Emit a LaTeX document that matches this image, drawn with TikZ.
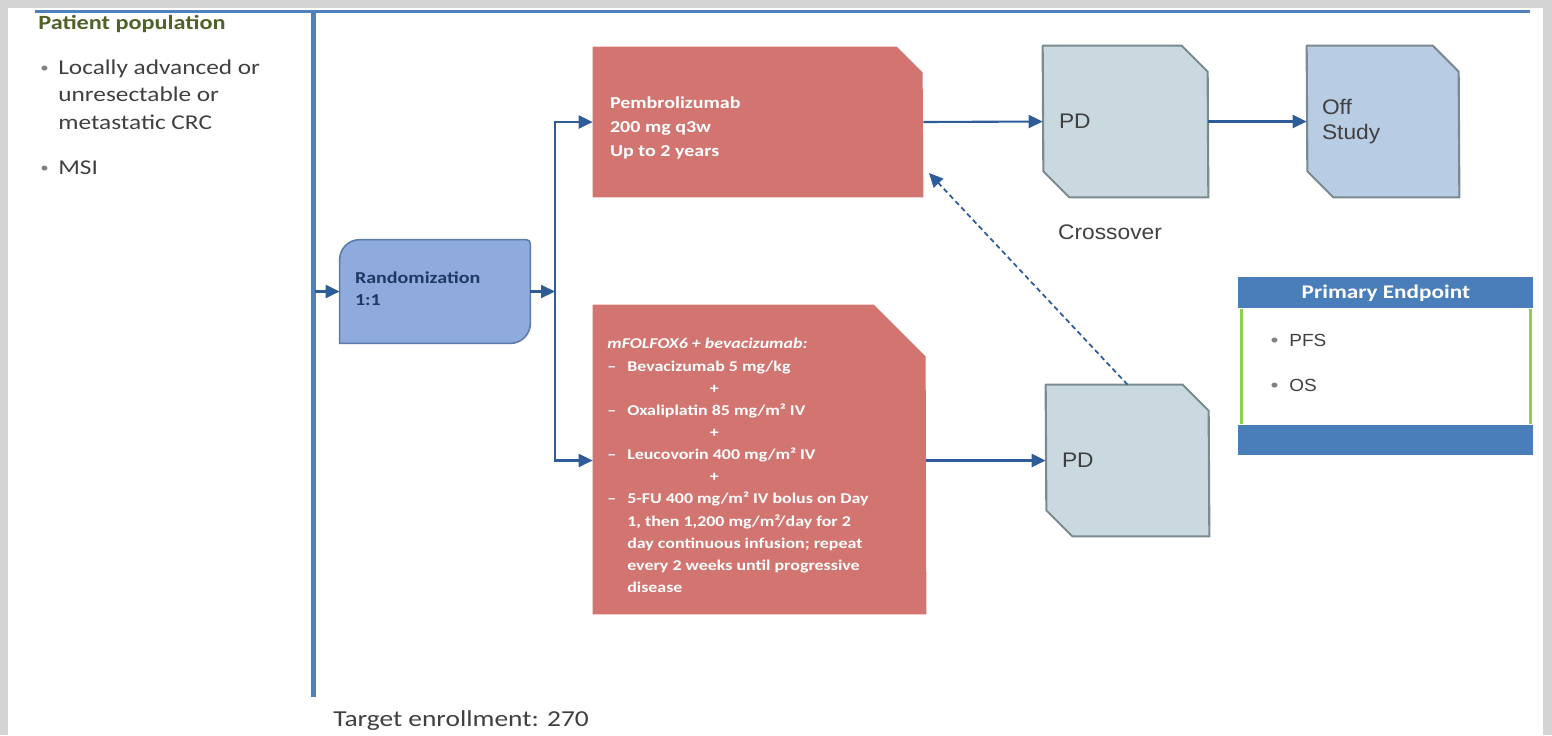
\documentclass[tikz,border=0pt]{standalone}
\usepackage{fontspec}
\setmainfont{Carlito}[FakeStretch=1.2]
\newfontfamily\arialfont{Liberation Sans}[FakeStretch=1.08]
\usepackage{tikz}
\usetikzlibrary{shapes,arrows.meta,positioning}

\definecolor{framegray}{HTML}{D4D4D4}
\definecolor{barblue}{HTML}{4F81BD}
\definecolor{arrowblue}{HTML}{2E5C99}
\definecolor{armred}{HTML}{D27570}
\definecolor{pdgray}{HTML}{C9D9DF}
\definecolor{pdedge}{HTML}{7A8B90}
\definecolor{offblue}{HTML}{B8CCE4}
\definecolor{randblue}{HTML}{8FAADC}
\definecolor{randedge}{HTML}{5B7DA8}
\definecolor{navytext}{HTML}{1F3864}
\definecolor{peblue}{HTML}{4A7EBB}
\definecolor{pegreen}{HTML}{8FD14F}
\definecolor{darktext}{HTML}{404040}
\definecolor{popgreen}{HTML}{4F6228}

\begin{document}
\begin{tikzpicture}[x=0.2mm,y=-0.2mm]
\tikzstyle{every node}=[inner sep=0pt,text=darktext]
\tikzstyle{slot}=[rectangle,draw=none]
\tikzstyle{pdshape}=[fill=pdgray,draw=pdedge,line width=1.2pt,line join=round]
\tikzstyle{armtext}=[align=left,text=white,font=\bfseries\fontsize{9.5}{13.6}\selectfont]
\tikzstyle{boxtext}=[align=left,font=\arialfont\fontsize{12}{14.2}\selectfont]
\tikzstyle{poptext}=[align=left,font=\fontsize{12}{15.9}\selectfont]
\tikzstyle{dot}=[text=gray,font=\fontsize{8}{8}\selectfont]
\tikzstyle{flow}=[draw=arrowblue,line width=1.2pt,-{Triangle[length=2.8mm,width=2.6mm]}]
\tikzstyle{bar}=[draw=barblue,line width=1mm]

% frame
\fill[framegray] (0,0) rectangle (1552,735);
\fill[white] (8,8) rectangle (1543,735);
\draw[bar,line width=0.6mm] (35,11) -- (1530,11);
\draw[bar] (313,11) -- (313,697);

% patient population
\node[anchor=base west,text=popgreen,font=\bfseries\fontsize{11.5}{14}\selectfont] (pop) at (38,29) {Patient population};
\node[poptext,anchor=north west] (crc) at (58,59) {Locally advanced or\\unresectable or\\metastatic CRC};
\node[poptext,anchor=base west] (msi) at (58,174) {MSI};
\node[dot,anchor=base west] at (40,72) {\textbullet};
\node[dot,anchor=base west] at (40,172) {\textbullet};

% randomization
\node[slot,minimum width=38mm,minimum height=20.6mm] (rand) at (435,291.5) {};
\filldraw[fill=randblue,draw=randedge,line width=0.9pt] (rand.south west) [rounded corners=4mm] -- (rand.north west) [rounded corners=0.8mm] -- (rand.north east) [rounded corners=4mm] -- (rand.south east) [sharp corners] -- cycle;
\node[anchor=west,align=left,text=navytext,font=\bfseries\fontsize{9.5}{12.5}\selectfont] (randlbl) at ([xshift=3mm,yshift=0.5mm]rand.west) {Randomization\\1:1};

% arms
\node[slot,minimum width=66mm,minimum height=30mm] (pembro) at (758,122) {};
\fill[armred] (pembro.south west) -- (pembro.north west) -- ++(304,0) -- ++(26,26) -- (pembro.south east) -- cycle;
\node[armtext,anchor=west] (pembrolbl) at ([xshift=3.4mm,yshift=-1.2mm]pembro.west) {Pembrolizumab\\200 mg q3w\\Up to 2 years};
\node[slot,minimum width=66.6mm,minimum height=61.8mm] (folfox) at (759.5,459.5) {};
\fill[armred] (folfox.south west) -- (folfox.north west) -- ++(281,0) -- ++(52,52) -- (folfox.south east) -- cycle;
\node[armtext,anchor=north west,font=\bfseries\fontsize{8.5}{12.6}\selectfont] (folfoxlbl) at (607,333) {%
\begin{tabular}{@{}l@{\hspace{2.2mm}}l@{}}
\multicolumn{2}{@{}l}{\textit{mFOLFOX6 + bevacizumab:}}\\
-- & Bevacizumab 5 mg/kg\\
 & \hspace{16.5mm}+\\
-- & Oxaliplatin 85 mg/m² IV\\
 & \hspace{16.5mm}+\\
-- & Leucovorin 400 mg/m² IV\\
 & \hspace{16.5mm}+\\
-- & 5-FU 400 mg/m² IV bolus on Day\\
 & 1, then 1,200 mg/m²/day for 2\\
 & day continuous infusion; repeat\\
 & every 2 weeks until progressive\\
 & disease
\end{tabular}};

% outcomes
\node[slot,minimum width=33mm,minimum height=30.2mm] (pd1) at (1125.5,121.5) {};
\filldraw[pdshape] (pd1.north west) -- ++(139,0) -- ++(26,26) -- (pd1.south east) -- ++(-139,0) -- ++(-26,-26) -- cycle;
\node[boxtext,anchor=west] (pd1lbl) at ([xshift=3.2mm]pd1.west) {PD};
\node[slot,minimum width=30.4mm,minimum height=30.2mm] (off) at (1383,121.5) {};
\filldraw[pdshape,fill=offblue] (off.north west) -- ++(126,0) -- ++(26,26) -- (off.south east) -- ++(-126,0) -- ++(-26,-26) -- cycle;
\node[boxtext,anchor=west] (offlbl) at ([xshift=3mm]off.west) {Off\\Study};
\node[slot,minimum width=32.6mm,minimum height=30.2mm] (pd2) at (1127.5,460.5) {};
\filldraw[pdshape] (pd2.north west) -- ++(137,0) -- ++(26,26) -- (pd2.south east) -- ++(-137,0) -- ++(-26,-26) -- cycle;
\node[boxtext,anchor=west] (pd2lbl) at ([xshift=3.2mm]pd2.west) {PD};
\node[boxtext] (cross) at (1110,232) {Crossover};
\coordinate (crossend) at (929,173);

% connectors
\coordinate (entry) at (315,291.5);
\coordinate (split) at (555,291.5);
\draw[flow] (entry) -- (rand.west);
\draw[flow] (rand.east) -- (split);
\draw[flow] (split) |- (pembro.west);
\draw[flow] (split) |- (folfox.west |- pd2.west);
\draw[flow] (pembro.east) -- (pd1.west);
\draw[flow] (pd1.east) -- (off.west);
\draw[flow] (folfox.east |- pd2.west) -- (pd2.west);
\draw[flow,dash pattern=on 1mm off 0.7mm,line width=1pt] (pd2.north) -- (crossend);

% primary endpoint
\node[anchor=north west,fill=peblue,minimum width=59mm,minimum height=6.2mm,text=white,font=\bfseries\fontsize{11}{13}\selectfont] (pehead) at (1238,277) {Primary Endpoint};
\node[below=0pt of pehead,minimum width=59mm,minimum height=23mm] (pebody) {};
\node[below=0pt of pebody,fill=peblue,minimum width=59mm,minimum height=6mm] (pefoot) {};
\draw[pegreen,line width=0.6mm] ([xshift=0.6mm]pebody.north west) -- ([xshift=0.6mm]pebody.south west);
\draw[pegreen,line width=0.6mm] ([xshift=-0.6mm]pebody.north east) -- ([xshift=-0.6mm]pebody.south east);
\node[anchor=base west,font=\arialfont\fontsize{10}{12}\selectfont] (pfs) at (1289,346) {PFS};
\node[anchor=base west,font=\arialfont\fontsize{10}{12}\selectfont] (os) at (1289,391) {OS};
\node[dot,anchor=base west] at (1270,344) {\textbullet};
\node[dot,anchor=base west] at (1270,389) {\textbullet};

\node[anchor=base west,font=\fontsize{13}{15}\selectfont] (target) at (333,726) {Target enrollment: 270};
\end{tikzpicture}
\end{document}
